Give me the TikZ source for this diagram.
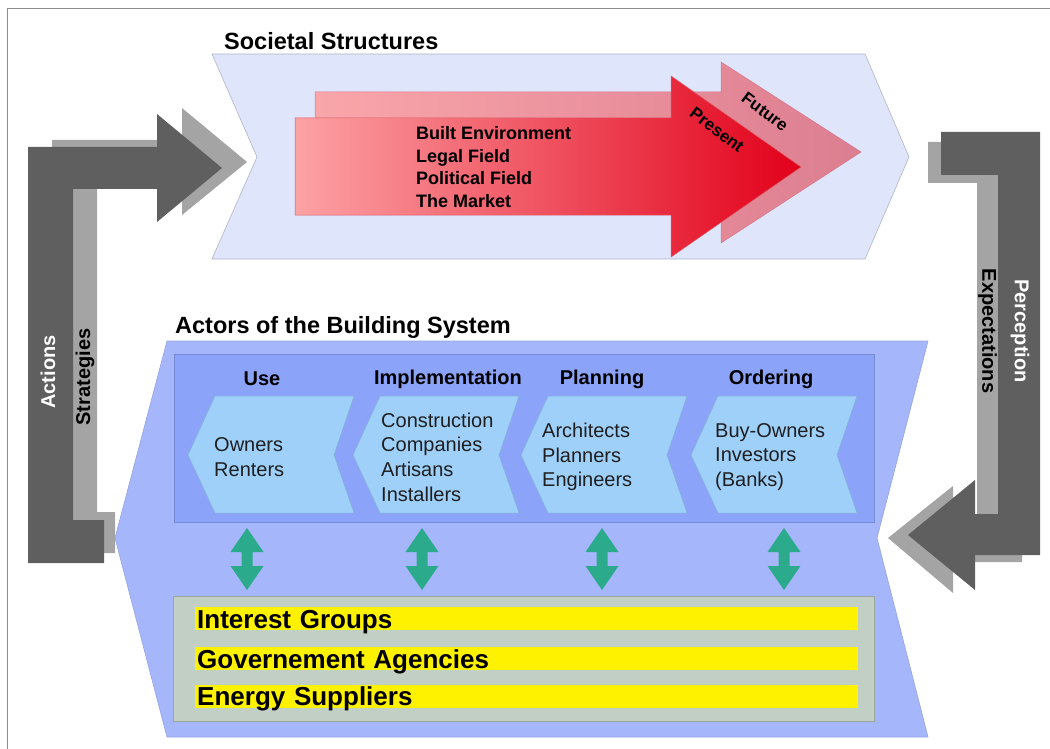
\documentclass[tikz,border=0pt]{standalone}
\usepackage{fontspec}
\setmainfont{Liberation Sans}
\usepackage{xcolor}
\usepackage{tikz}
\usetikzlibrary{positioning}
\definecolor{societal}{RGB}{223,229,251}
\definecolor{actors}{RGB}{165,182,250}
\definecolor{actorsin}{RGB}{139,163,249}
\definecolor{rolefill}{RGB}{158,208,250}
\definecolor{groupfill}{RGB}{194,207,196}
\definecolor{groupbar}{RGB}{255,242,0}
\definecolor{darkarrow}{RGB}{95,95,95}
\definecolor{lightarrow}{RGB}{164,164,164}
\definecolor{linkarrow}{RGB}{44,170,140}
\tikzstyle{frame} = [draw=black!45, line width=1.2pt]
\tikzstyle{societal} = [fill=societal, draw=black!15!societal!80!gray, line width=0.6pt]
\tikzstyle{actors} = [fill=actors, draw=actors!90!black, line width=0.6pt]
\tikzstyle{future} = [left color={rgb,255:red,249;green,166;blue,170}, right color={rgb,255:red,220;green,126;blue,145}, draw={rgb,255:red,214;green,120;blue,138}, line width=0.5pt]
\tikzstyle{present} = [left color={rgb,255:red,252;green,162;blue,165}, right color={rgb,255:red,226;green,0;blue,26}, draw={rgb,255:red,220;green,90;blue,100}, line width=0.5pt]
\tikzstyle{title} = [anchor=west, inner sep=0pt, font=\fontsize{23.5}{28}\selectfont\bfseries]
\tikzstyle{field} = [anchor=west, inner sep=0pt, align=left, font=\fontsize{18}{22.5}\selectfont\bfseries]
\tikzstyle{time} = [inner sep=0pt, rotate=-37, font=\fontsize{17}{20}\selectfont\bfseries]
\tikzstyle{turn} = [inner sep=0pt, font=\fontsize{20}{24}\selectfont\bfseries]
\tikzstyle{head} = [inner sep=0pt, font=\fontsize{20}{24}\selectfont\bfseries]
\tikzstyle{role} = [anchor=west, inner sep=0pt, align=left, text=black!88, font=\fontsize{20}{24.6}\selectfont]
\tikzstyle{rolebox} = [fill=rolefill, draw=rolefill!85!black, line width=0.5pt]
\tikzstyle{group} = [rectangle, anchor=west, fill=groupbar, minimum width=663pt, text width=659pt, inner xsep=2pt, inner ysep=0pt, text height=21pt, text depth=2pt, font=\fontsize{26}{30}\selectfont\bfseries]
\tikzstyle{link} = [fill=linkarrow]

\begin{document}
\begin{tikzpicture}[x=1pt, y=-1pt]
	\useasboundingbox (0,0) rectangle (1050,749);
	\draw [frame] (7.5,749) -- (7.5,8.5) -- (1050,8.5);
	
	\draw [societal] (212,54) -- (865,54) -- (909,157) -- (865,259) -- (212,259) -- (257,157) -- cycle;
	\node (soc) [title] at (224,41.5) {Societal Structures};
	
	\draw [future] (315,92) -- (721,92) -- (721,62) -- (861,152) -- (721,243) -- (721,212) -- (315,212) -- cycle;
	\draw [present] (295,118) -- (671,118) -- (671,76) -- (801,167) -- (671,257) -- (671,215) -- (295,215) -- cycle;
	\node (fields) [field] at (416,167) {Built Environment\\Legal Field\\Political Field\\The Market};
	\node (present) [time] at (717,130) {Present};
	\node (future) [time] at (765,112) {Future};
	
	\fill [lightarrow] (115,512) -- (115,553) -- (52,553) -- (52,140) -- (182,140) -- (182,108) -- (247,162) -- (182,215) -- (182,183) -- (97,183) -- (97,512) -- cycle;
	\fill [darkarrow] (104,520) -- (104,563) -- (28,563) -- (28,147) -- (157,147) -- (157,114) -- (222,168) -- (157,222) -- (157,189) -- (73,189) -- (73,520) -- cycle;
	\node (actions) [turn, rotate=90, text=white] at (48,372) {Actions};
	\node (strategies) [turn, rotate=90] at (85,377) {Strategies};
	
	\fill [lightarrow] (928,142) -- (1022,142) -- (1022,562) -- (953,562) -- (953,593) -- (888,538) -- (953,486) -- (953,520) -- (977,520) -- (977,183) -- (928,183) -- cycle;
	\fill [darkarrow] (941,132) -- (1040,132) -- (1040,555) -- (975,555) -- (975,590) -- (908,535) -- (975,480) -- (975,514) -- (998,514) -- (998,175) -- (941,175) -- cycle;
	\node (perception) [turn, rotate=-90, text=white] at (1020,331) {Perception};
	\node (expectations) [turn, rotate=-90] at (987.5,331) {Expectations};
	
	\draw [actors] (167,341) -- (928,341) -- (877,538) -- (928,737) -- (167,737) -- (115,538) -- cycle;
	\node (act) [title] at (175,327.5) {Actors of the Building System};
	\draw [fill=actorsin, draw=actorsin!85!black, line width=0.5pt] (174,354) rectangle (874,522);
	
	\node (use) [head] at (262,379) {Use};
	\node (impl) [head] at (448,379) {Implementation};
	\node (plan) [head] at (602,379) {Planning};
	\node (order) [head] at (771,379) {Ordering};
	
	\foreach \l in {188,353,521,691}
		\draw [rolebox] (\l+27,396) -- (\l+166,396) -- (\l+146,455) -- (\l+166,513) -- (\l+27,513) -- (\l,455) -- cycle;
	\node (users) [role] at (214,457) {Owners\\Renters};
	\node (builders) [role] at (381,457) {Construction\\Companies\\Artisans\\Installers};
	\node (planners) [role] at (542,457) {Architects\\Planners\\Engineers};
	\node (clients) [role] at (715,457) {Buy-Owners\\Investors\\(Banks)};
	
	\foreach \x in {247,422,602,784}
		\fill [link] (\x,528) -- (\x+16.5,552) -- (\x+5.5,552) -- (\x+5.5,566) -- (\x+16.5,566) -- (\x,590) -- (\x-16.5,566) -- (\x-5.5,566) -- (\x-5.5,552) -- (\x-16.5,552) -- cycle;
	
	\draw [fill=groupfill, draw=groupfill!80!black, line width=0.5pt] (173,596) rectangle (874,721);
	\node (interest) [group] at (195,618.5) {Interest Groups};
	\node (agencies) [group] at (195,658.5) {Governement Agencies};
	\node (energy) [group] at (195,696) {Energy Suppliers};
	
\end{tikzpicture}
\end{document}
